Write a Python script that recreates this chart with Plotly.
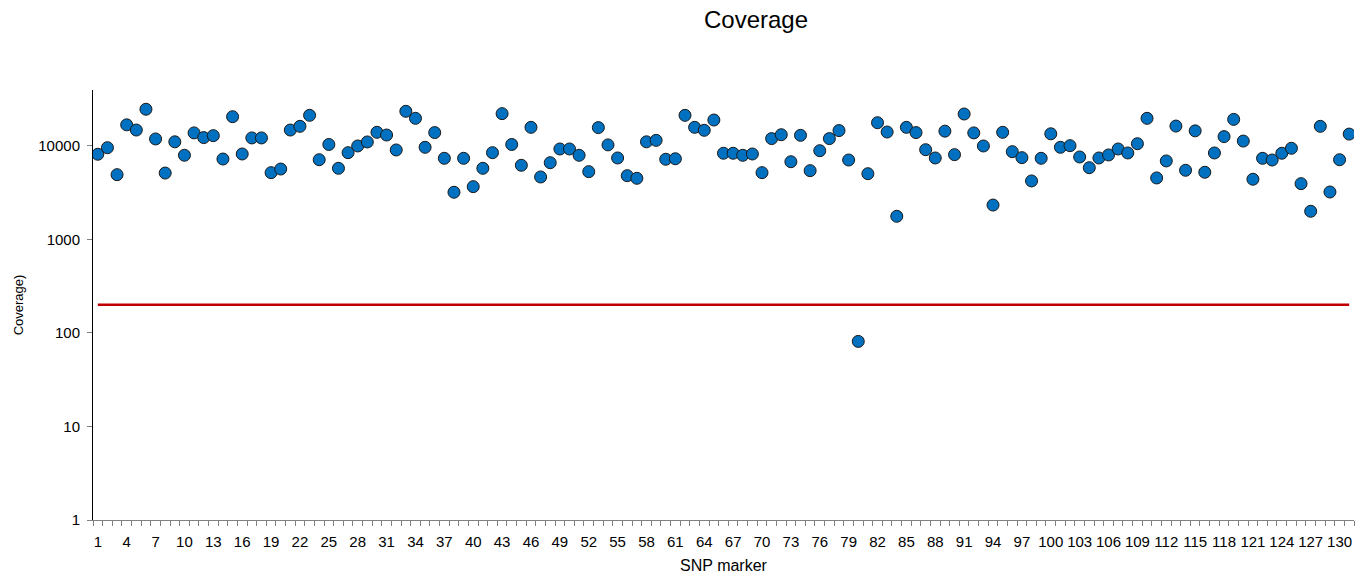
import plotly.graph_objects as go

snp_markers = list(range(1, 132))
coverage = [
    8100, 9520, 4900, 16700, 14700, 24500, 11800, 5100, 11000, 7900,
    13700, 12200, 12800, 7200, 20400, 8150, 12100, 12100, 5150, 5630,
    14700, 16100, 21100, 7080, 10300, 5730, 8420, 9930, 10960, 13900,
    13000, 9000, 23300, 19600, 9610, 13800, 7330, 3180, 7330, 3650,
    5730, 8420, 22000, 10300, 6170, 15700, 4630, 6580, 9220, 9220,
    7890, 5280, 15600, 10200, 7390, 4780, 4480, 11000, 11400, 7160,
    7250, 21100, 15700, 14600, 18800, 8300, 8300, 7890, 8150, 5150,
    11900, 13100, 6740, 12900, 5410, 8840, 11900, 14500, 7030, 81,
    5020, 17600, 14000, 1760, 15700, 13800, 9060, 7390, 14300, 8020,
    21800, 13700, 9930, 2320, 13900, 8630, 7450, 4200, 7330, 13400,
    9610, 10000, 7570, 5820, 7390, 7960, 9220, 8360, 10500, 19600,
    4520, 6870, 16200, 5460, 14400, 5200, 8360, 12500, 19100, 11200,
    4380, 7330, 7030, 8300, 9380, 3930, 1990, 16100, 3200, 7080,
    13300,
]
threshold = 200
x_tick_values = list(range(1, 131, 3))
x_tick_labels = [str(v) for v in x_tick_values]
y_tick_values = [1, 10, 100, 1000, 10000]
y_tick_labels = ["1", "10", "100", "1000", "10000"]

font_family = "Liberation Sans, Arial, sans-serif"

fig = go.Figure()
fig.add_trace(go.Scatter(
    x=[snp_markers[0], snp_markers[-1]],
    y=[threshold, threshold],
    mode="lines",
    line=dict(color="#C00000", width=2.5),
    hoverinfo="skip",
    showlegend=False,
))
fig.add_trace(go.Scatter(
    x=snp_markers,
    y=coverage,
    mode="markers",
    marker=dict(size=12, color="#0070C0", line=dict(color="#1a1a1a", width=1)),
    showlegend=False,
))

fig.update_layout(
    width=1371,
    height=578,
    margin=dict(l=93, r=17, t=90, b=58, autoexpand=False),
    paper_bgcolor="white",
    plot_bgcolor="white",
    font=dict(family=font_family, color="#000000"),
    title=dict(
        text="Coverage",
        x=756 / 1371,
        xanchor="center",
        xref="container",
        y=1 - 20 / 578,
        yanchor="middle",
        yref="container",
        font=dict(size=24, family=font_family, color="#000000"),
    ),
)

fig.update_xaxes(
    automargin=False,
    range=[0.5, len(snp_markers) + 0.5],
    tickmode="array",
    tickvals=x_tick_values,
    ticktext=x_tick_labels,
    ticks="outside",
    ticklen=8,
    tickcolor="rgba(0,0,0,0)",
    tickfont=dict(size=15, family=font_family, color="#000000"),
    minor=dict(
        tickmode="array",
        tickvals=[v + 0.5 for v in [0] + snp_markers],
        ticks="outside",
        ticklen=5,
        tickcolor="#808080",
        tickwidth=1,
        showgrid=False,
    ),
    showline=True,
    linecolor="#808080",
    linewidth=1,
    showgrid=False,
    zeroline=False,
    title=dict(text="SNP marker", font=dict(size=16, family=font_family, color="#000000"), standoff=10),
)

fig.update_yaxes(
    automargin=False,
    type="log",
    range=[0, 4.595],
    tickmode="array",
    tickvals=y_tick_values,
    ticktext=y_tick_labels,
    ticks="outside",
    ticklen=5,
    tickcolor="#808080",
    ticklabelstandoff=4,
    tickfont=dict(size=15, family=font_family, color="#000000"),
    showline=True,
    linecolor="#000000",
    linewidth=1,
    showgrid=False,
    zeroline=False,
    title=dict(text="Coverage)", font=dict(size=13, family=font_family, color="#000000"), standoff=11),
)

fig.write_html("out.html")
